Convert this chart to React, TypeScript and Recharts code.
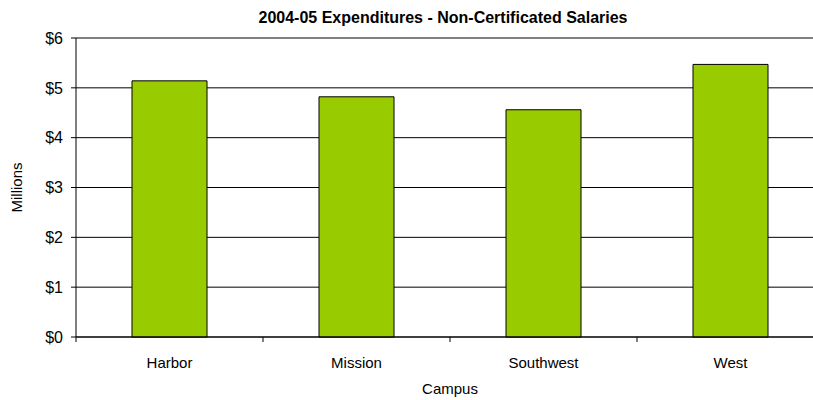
import React from 'react';
import { BarChart, Bar, XAxis, YAxis, CartesianGrid, ReferenceLine } from 'recharts';

const campuses = ['Harbor', 'Mission', 'Southwest', 'West'];
const salaries = [5.14, 4.82, 4.56, 5.47];
const yTicks = [0, 1, 2, 3, 4, 5, 6];

const data = campuses.map((campus, i) => ({ campus, value: salaries[i] }));

const FONT = '"Liberation Sans", Arial, sans-serif';
const CHART_W = 830;
const CHART_H = 400;
const MARGIN = { top: 38, right: 6, bottom: 0, left: 0 };
const Y_W = 76;
const X_H = 63;
const PLOT_BOTTOM = CHART_H - MARGIN.bottom - X_H;
const HALF_BAND = (CHART_W - MARGIN.left - MARGIN.right - Y_W) / campuses.length / 2;

const CampusTick = (props: any) => {
  const { x, payload } = props;
  const left = x - HALF_BAND;
  return (
    <g>
      <line x1={left} x2={left} y1={PLOT_BOTTOM} y2={PLOT_BOTTOM + 5} stroke="#000" />
      <text x={x} y={PLOT_BOTTOM + 31} textAnchor="middle" fontSize={15} fontFamily={FONT} fill="#000">
        {payload.value}
      </text>
    </g>
  );
};

const MillionsLabel = (props: any) => {
  const { viewBox } = props;
  const cy = viewBox.y + viewBox.height / 2;
  return (
    <text x={22} y={cy} transform={`rotate(-90 22 ${cy})`} textAnchor="middle" fontSize={15} fontFamily={FONT} fill="#000">
      Millions
    </text>
  );
};

export default function App() {
  return (
    <div style={{ position: 'absolute', left: 0, top: 0, width: 813, height: 400, overflow: 'hidden', background: '#fff' }}>
      <div
        style={{
          position: 'absolute',
          left: 0,
          top: 9,
          width: 886,
          textAlign: 'center',
          fontFamily: FONT,
          fontWeight: 'bold',
          fontSize: 16,
          color: '#000',
        }}
      >
        2004-05 Expenditures - Non-Certificated Salaries
      </div>
      <BarChart width={CHART_W} height={CHART_H} data={data} margin={MARGIN} barSize={75}>
        <CartesianGrid vertical={false} stroke="#000" strokeOpacity={1} />
        <XAxis
          dataKey="campus"
          height={X_H}
          axisLine={{ stroke: '#000' }}
          tickLine={false}
          tick={<CampusTick />}
          interval={0}
          label={{ value: 'Campus', position: 'insideBottom', offset: 6, fontSize: 15, fontFamily: FONT, fill: '#000' }}
        />
        <YAxis
          width={Y_W}
          domain={[0, 6]}
          ticks={yTicks}
          tickFormatter={(v: number) => `$${v}`}
          axisLine={{ stroke: '#000' }}
          tickLine={{ stroke: '#000' }}
          tickSize={5}
          tickMargin={8}
          tick={{ fontSize: 16, fontFamily: FONT, fill: '#000' }}
          label={<MillionsLabel />}
        />
        <ReferenceLine y={6} stroke="#808080" strokeWidth={2} />
        <Bar dataKey="value" fill="#99CC00" stroke="#000" strokeWidth={1} isAnimationActive={false} />
      </BarChart>
    </div>
  );
}
